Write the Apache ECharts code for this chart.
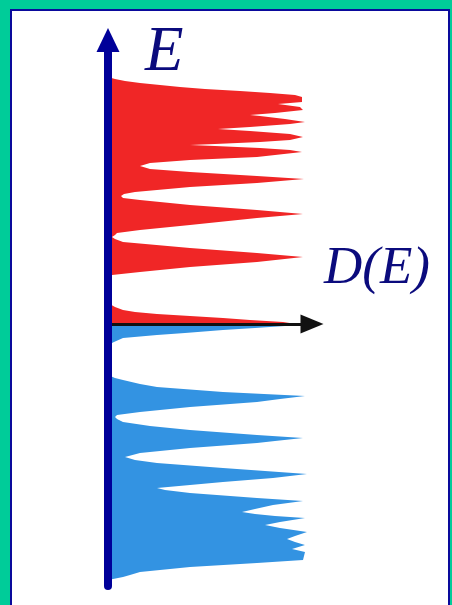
<!DOCTYPE html>
<html>
<head>
<meta charset="utf-8">
<title>D(E)</title>
<script src="https://cdn.jsdelivr.net/npm/echarts@6/dist/echarts.min.js"></script>
<style>
  html, body { margin: 0; padding: 0; background: #00cc99; }
  body { width: 452px; height: 605px; position: relative; overflow: hidden; }
  #frame {
    position: absolute; left: 10px; top: 9px; width: 436px; height: 620px;
    background: #ffffff; border: 2px solid #0a0a9c; border-bottom: none;
  }
  #chart { position: absolute; left: 0; top: 0; width: 452px; height: 605px; }
</style>
</head>
<body>
<div id="frame"></div>
<div id="chart"></div>
<script>
// Density of states above E = 0 (red), listed with increasing energy
const upperE = [0.00, 0.02, 0.04, 0.06, 0.08, 0.10, 0.12, 0.14, 0.17, 0.21,
  0.48, 0.49, 0.52, 0.57, 0.62, 0.67, 0.71, 0.76, 0.82, 0.85,
  0.87, 0.89, 0.91, 0.94, 0.99, 1.06, 1.10, 1.14, 1.19, 1.24,
  1.26, 1.28, 1.30, 1.32, 1.37, 1.41, 1.45, 1.48, 1.52, 1.55,
  1.58, 1.61, 1.64, 1.67, 1.72, 1.74, 1.76, 1.78, 1.79, 1.80,
  1.82, 1.84, 1.87, 1.90, 1.93, 1.95, 1.97, 2.00, 2.02, 2.05,
  2.08, 2.09, 2.11, 2.14, 2.17, 2.20, 2.22, 2.27, 2.29, 2.31,
  2.33, 2.35, 2.37, 2.39, 2.41, 2.43, 2.45, 2.47];
const upperD = [0.94, 0.875, 0.71, 0.575, 0.41, 0.245, 0.135, 0.075, 0.035, 0.00,
  0.00, 0.02, 0.16, 0.41, 0.745, 0.975, 0.745, 0.41, 0.075, 0.035,
  0.02, 0.035, 0.045, 0.16, 0.41, 0.745, 0.975, 0.745, 0.41, 0.16,
  0.075, 0.065, 0.08, 0.135, 0.41, 0.745, 0.98, 0.745, 0.41, 0.21,
  0.16, 0.21, 0.41, 0.745, 0.97, 0.91, 0.76, 0.535, 0.41, 0.535,
  0.76, 0.91, 0.975, 0.91, 0.71, 0.55, 0.71, 0.91, 0.985, 0.885,
  0.76, 0.71, 0.835, 0.975, 0.96, 0.85, 0.97, 0.97, 0.935, 0.81,
  0.66, 0.485, 0.36, 0.26, 0.16, 0.085, 0.035, 0.00];

// Density of states below E = 0 (blue), listed with decreasing energy
const lowerE = [0.00, -0.02, -0.04, -0.06, -0.09, -0.11, -0.14, -0.18, -0.21,
  -0.51, -0.54, -0.56, -0.60, -0.63, -0.68, -0.72, -0.75, -0.78, -0.83,
  -0.88, -0.91, -0.93, -0.95, -0.98, -1.02, -1.06, -1.11, -1.14, -1.17,
  -1.19, -1.24, -1.29, -1.33, -1.36, -1.39, -1.44, -1.50, -1.54, -1.58,
  -1.61, -1.64, -1.66, -1.69, -1.74, -1.77, -1.81, -1.85, -1.88, -1.90,
  -1.92, -1.94, -1.98, -2.01, -2.04, -2.08, -2.12, -2.15, -2.18, -2.21,
  -2.25, -2.28, -2.36, -2.39, -2.43, -2.48, -2.51, -2.53, -2.56];
const lowerD = [0.945, 0.885, 0.735, 0.575, 0.385, 0.245, 0.075, 0.03, 0.00,
  0.00, 0.035, 0.075, 0.16, 0.245, 0.575, 0.985, 0.86, 0.745, 0.41,
  0.16, 0.045, 0.035, 0.045, 0.075, 0.21, 0.41, 0.745, 0.975, 0.835,
  0.745, 0.41, 0.16, 0.085, 0.135, 0.245, 0.575, 0.995, 0.825, 0.575,
  0.41, 0.245, 0.285, 0.41, 0.745, 0.975, 0.825, 0.735, 0.67, 0.735,
  0.835, 0.985, 0.86, 0.785, 0.86, 0.995, 0.935, 0.895, 0.935, 0.985,
  0.92, 0.985, 0.975, 0.745, 0.41, 0.16, 0.11, 0.075, 0.00];

// Axis titles
const energyLabel = 'E';
const dosLabel = 'D(E)';

const RED = '#f02626';
const BLUE = '#3393e2';
const NAVY = '#000099';

// Filled region between the E axis (D = 0) and the D(E) curve
function dosArea(D, E, color, name) {
  return {
    type: 'custom',
    name: name,
    coordinateSystem: 'cartesian2d',
    data: E.map((e, i) => [D[i], e]),
    encode: { x: 0, y: 1 },
    clip: false,
    silent: true,
    z: 2,
    renderItem(params, api) {
      if (params.dataIndex !== 0) return null;
      const pts = [api.coord([0, E[0]])];
      for (let i = 0; i < E.length; i++) pts.push(api.coord([D[i], E[i]]));
      pts.push(api.coord([0, E[E.length - 1]]));
      return { type: 'polygon', shape: { points: pts }, style: { fill: color } };
    }
  };
}

const chart = echarts.init(document.getElementById('chart'), null, { renderer: 'canvas' });
chart.setOption({
  backgroundColor: 'transparent',
  animation: false,
  grid: { left: 108, top: 40, width: 204, height: 546, containLabel: false },
  xAxis: {
    type: 'value', min: 0, max: 1.02, z: 4,
    axisLine: {
      onZero: true,
      symbol: ['none', 'triangle'], symbolSize: [19, 23],
      lineStyle: { color: '#111111', width: 3 }
    },
    axisTick: { show: false }, axisLabel: { show: false }, splitLine: { show: false }
  },
  yAxis: {
    type: 'value', min: -2.62, max: 2.84, z: 5,
    axisLine: {
      onZero: true,
      symbol: ['none', 'triangle'], symbolSize: [23, 24],
      lineStyle: { color: NAVY, width: 8 }
    },
    axisTick: { show: false }, axisLabel: { show: false }, splitLine: { show: false }
  },
  graphic: [
    {
      type: 'text', x: 145, y: 53, z: 10,
      style: { text: energyLabel, font: 'italic 63px "Liberation Serif", "DejaVu Serif", serif',
               fill: '#0b0b7d', align: 'left', verticalAlign: 'middle' }
    },
    {
      type: 'text', x: 324, y: 269, z: 10,
      style: { text: dosLabel, font: 'italic 53px "Liberation Serif", "DejaVu Serif", serif',
               fill: '#0b0b7d', align: 'left', verticalAlign: 'middle' }
    }
  ],
  series: [
    dosArea(upperD, upperE, RED, 'E > 0'),
    dosArea(lowerD, lowerE, BLUE, 'E < 0')
  ]
});
</script>
</body>
</html>
